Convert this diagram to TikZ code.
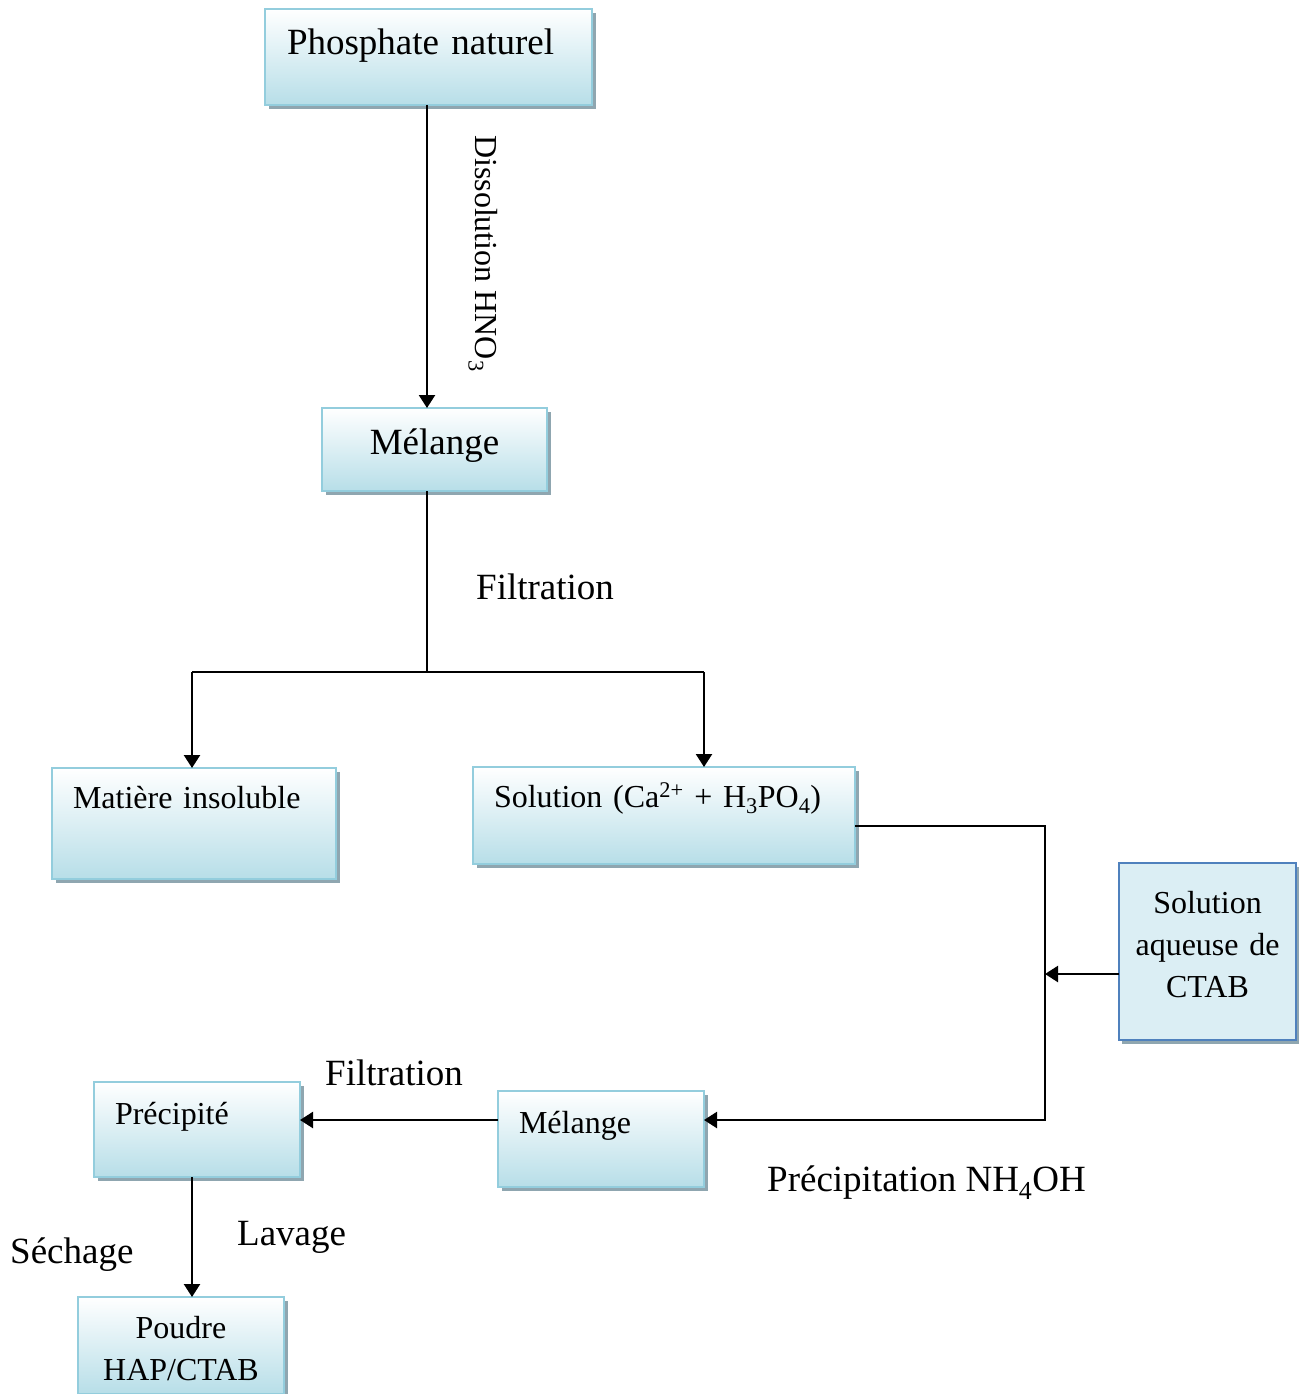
\documentclass[tikz,border=0pt]{standalone}
\usepackage{fontspec}
\setmainfont{Liberation Serif}
\usepackage{xcolor}
\usetikzlibrary{arrows.meta,shadows}

\definecolor{bordbleu}{RGB}{147,205,221}
\definecolor{fondbleu}{RGB}{183,222,232}
\definecolor{ombre}{RGB}{143,166,176}
\definecolor{ctabfond}{RGB}{219,238,244}
\definecolor{ctabbord}{RGB}{79,129,189}

\newcommand{\grandtexte}{\fontsize{37pt}{44pt}\selectfont}
\newcommand{\petittexte}{\fontsize{32pt}{42pt}\selectfont}

\tikzset{
  boite/.style={draw=bordbleu, line width=2.5pt, top color=white, bottom color=fondbleu,
    drop shadow={shadow xshift=4pt, shadow yshift=-4pt, fill=ombre, opacity=1},
    anchor=north west, outer sep=0pt, inner ysep=0pt, align=left},
  boitectab/.style={draw=ctabbord, line width=2pt, fill=ctabfond,
    drop shadow={shadow xshift=3pt, shadow yshift=-4pt, fill=ombre, opacity=1},
    anchor=north west, outer sep=0pt, inner sep=0pt, align=center},
  fleche/.style={line width=2.4pt, -{Triangle[length=13pt,width=16pt]}},
  trait/.style={line width=2.4pt},
  etiquette/.style={anchor=base west, inner sep=0pt}
}

\begin{document}
\begin{tikzpicture}[x=1pt,y=1pt,yscale=-1,xscale=1]
\useasboundingbox (0,0) rectangle (1303,1394);

% Boites
\node [boite, minimum width=327pt, minimum height=96pt, inner xsep=22pt, text width=283pt, text height=46pt, text depth=50pt, font=\grandtexte] (phos) at (265,9) {Phosphate naturel};
\node [boite, minimum width=225pt, minimum height=83pt, inner xsep=0pt, text width=225pt, text height=46pt, text depth=37pt, align=center, font=\grandtexte] (mel1) at (322,408) {Mélange};
\node [boite, minimum width=284pt, minimum height=111pt, inner xsep=21pt, text width=242pt, text height=40pt, text depth=71pt, font=\petittexte] (insol) at (52,768) {Matière insoluble};
\node [boite, minimum width=382pt, minimum height=97pt, inner xsep=21pt, text width=340pt, text height=40pt, text depth=57pt, font=\petittexte] (sol) at (473,767) {Solution (Ca\textsuperscript{2+} + H\textsubscript{3}PO\textsubscript{4})};
\node [boitectab, minimum width=177pt, minimum height=177pt, text width=177pt, text height=50pt, text depth=127pt, font=\petittexte] (ctab) at (1119,863) {Solution\\aqueuse de\\CTAB};
\node [boite, minimum width=206pt, minimum height=96pt, inner xsep=21pt, text width=164pt, text height=42pt, text depth=54pt, font=\petittexte] (mel2) at (498,1091) {Mélange};
\node [boite, minimum width=206pt, minimum height=95pt, inner xsep=21pt, text width=164pt, text height=42pt, text depth=53pt, font=\petittexte] (prec) at (94,1082) {Précipité};
\node [boite, minimum width=206pt, minimum height=97pt, inner xsep=0pt, text width=206pt, text height=41pt, text depth=56pt, align=center, font=\petittexte] (poud) at (78,1297) {Poudre\\HAP/CTAB};

% Points de passage
\coordinate (j) at (427,672);
\coordinate (jg) at (192,672);
\coordinate (jd) at (704,672);
\coordinate (k) at (1045,826);
\coordinate (k2) at (1045,1120);
\coordinate (c1) at (1045,974);
\coordinate (l) at (192,1177);

% Connecteurs
\draw [fleche] (phos.south -| j) -- (mel1.north -| j);
\draw [line width=1.6pt] (j |- mel1.south) -- (j);
\draw [trait] (jg) -- (jd);
\draw [fleche] (jg) -- (jg |- insol.north);
\draw [fleche] (jd) -- (jd |- sol.north);
\draw [fleche] (sol.east |- k) -- (k) -- (k2) -- (k2 -| mel2.east);
\draw [fleche] (ctab.west |- c1) -- (c1);
\draw [fleche] (mel2.west |- k2) -- (prec.east |- k2);
\draw [fleche] (l |- prec.south) -- (l |- poud.north);

% Etiquettes
\node [etiquette, rotate=-90, font=\petittexte] (diss) at (475,135) {Dissolution HNO\textsubscript{3}};
\node [etiquette, font=\grandtexte] (filt1) at (476,599) {Filtration};
\node [etiquette, font=\grandtexte] (filt2) at (325,1085) {Filtration};
\node [etiquette, font=\grandtexte] (precip) at (767,1191) {Précipitation NH\textsubscript{4}OH};
\node [etiquette, font=\grandtexte] (lav) at (237,1245) {Lavage};
\node [etiquette, font=\grandtexte] (sech) at (10,1263) {Séchage};

\end{tikzpicture}
\end{document}
